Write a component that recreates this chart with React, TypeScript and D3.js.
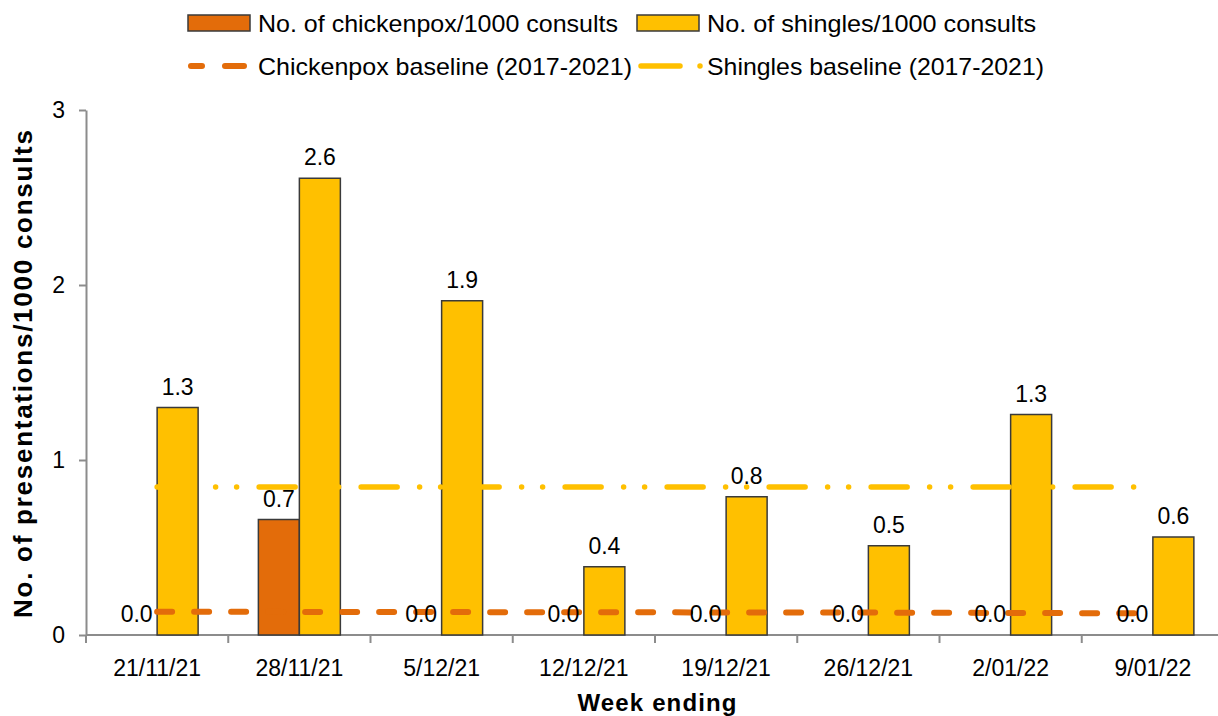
import * as d3 from "d3";
import { useEffect, useRef } from "react";

const weeks = ["21/11/21", "28/11/21", "5/12/21", "12/12/21", "19/12/21", "26/12/21", "2/01/22", "9/01/22"];
const chickenpox = [0, 0.66, 0, 0, 0, 0, 0, 0];
const shingles = [1.3, 2.61, 1.91, 0.39, 0.79, 0.51, 1.26, 0.56];
const chickenpoxBaseline = [0.133, 0.132, 0.131, 0.13, 0.129, 0.128, 0.126, 0.124];
const shinglesBaseline = [0.846, 0.846, 0.846, 0.846, 0.846, 0.846, 0.846, 0.846];
const yTicks = [0, 1, 2, 3];

const ORANGE = "#E36C0A";
const YELLOW = "#FFC000";
const AXIS = "#8c8c8c";
const FONT = "'Liberation Sans', Arial, sans-serif";

export default function App() {
  const ref = useRef<SVGSVGElement | null>(null);

  useEffect(() => {
    const width = 1218;
    const height = 716;
    const margin = { top: 110, right: -6, bottom: 81, left: 86 };

    const svg = d3.select(ref.current).attr("width", width).attr("height", height);
    svg.selectAll("*").remove();

    const x = d3
      .scaleBand<string>()
      .domain(weeks)
      .range([margin.left, width - margin.right]);

    const xs = d3
      .scaleBand<string>()
      .domain(["chickenpox", "shingles"])
      .range([0, x.bandwidth()])
      .paddingInner(0)
      .paddingOuter(0.735);

    const y = d3
      .scaleLinear()
      .domain([0, 3])
      .range([height - margin.bottom, margin.top]);

    // y axis
    const yAxis = svg
      .append("g")
      .attr("transform", `translate(${margin.left},0)`)
      .call(
        d3
          .axisLeft(y)
          .tickValues(yTicks)
          .tickFormat(d3.format("d"))
          .tickSize(7)
          .tickPadding(14)
          .tickSizeOuter(0)
      );
    yAxis.select(".domain").attr("stroke", AXIS).attr("stroke-width", 2);
    yAxis.selectAll(".tick line").attr("stroke", AXIS).attr("stroke-width", 2);
    yAxis
      .selectAll(".tick text")
      .attr("font-family", FONT)
      .attr("font-size", 23)
      .attr("fill", "#000");

    // x axis
    const y0 = y(0);
    svg
      .append("line")
      .attr("x1", margin.left)
      .attr("x2", width - margin.right)
      .attr("y1", y0)
      .attr("y2", y0)
      .attr("stroke", AXIS)
      .attr("stroke-width", 2);
    svg
      .append("g")
      .selectAll("line")
      .data(weeks)
      .join("line")
      .attr("x1", (d) => x(d)!)
      .attr("x2", (d) => x(d)!)
      .attr("y1", y0)
      .attr("y2", y0 + 8)
      .attr("stroke", AXIS)
      .attr("stroke-width", 2);
    svg
      .append("g")
      .selectAll("text")
      .data(weeks)
      .join("text")
      .attr("x", (d) => x(d)! + x.bandwidth() / 2)
      .attr("y", 676)
      .attr("text-anchor", "middle")
      .attr("font-family", FONT)
      .attr("font-size", 23)
      .text((d) => d);

    // bars
    const series = [
      { key: "chickenpox", values: chickenpox, color: ORANGE },
      { key: "shingles", values: shingles, color: YELLOW },
    ];
    series.forEach((s) => {
      svg
        .append("g")
        .selectAll("rect")
        .data(s.values)
        .join("rect")
        .attr("x", (_, i) => x(weeks[i])! + xs(s.key)!)
        .attr("y", (d) => y(d))
        .attr("width", xs.bandwidth())
        .attr("height", (d) => y0 - y(d))
        .attr("fill", s.color)
        .attr("stroke", "#3a3a3a")
        .attr("stroke-width", 1.5);
    });

    // baselines
    const line = d3
      .line<number>()
      .x((_, i) => x(weeks[i])! + x.bandwidth() / 2)
      .y((d) => y(d));

    svg
      .append("path")
      .datum(shinglesBaseline)
      .attr("d", line)
      .attr("fill", "none")
      .attr("stroke", YELLOW)
      .attr("stroke-width", 5.5)
      .attr("stroke-linecap", "round")
      .attr("stroke-dasharray", "36,22.5,0,21,0,22.5");

    svg
      .append("path")
      .datum(chickenpoxBaseline)
      .attr("d", line)
      .attr("fill", "none")
      .attr("stroke", ORANGE)
      .attr("stroke-width", 6)
      .attr("stroke-linecap", "round")
      .attr("stroke-dasharray", "15,22");

    // data labels
    series.forEach((s) => {
      svg
        .append("g")
        .selectAll("text")
        .data(s.values)
        .join("text")
        .attr("x", (_, i) => x(weeks[i])! + xs(s.key)! + xs.bandwidth() / 2)
        .attr("y", (d) => y(d) - 13)
        .attr("text-anchor", "middle")
        .attr("font-family", FONT)
        .attr("font-size", 23)
        .text((d) => d.toFixed(1));
    });

    // axis titles
    svg
      .append("text")
      .attr("transform", `translate(32,374) rotate(-90)`)
      .attr("text-anchor", "middle")
      .attr("font-family", FONT)
      .attr("font-weight", "bold")
      .attr("font-size", 26)
      .attr("textLength", 488)
      .attr("lengthAdjust", "spacing")
      .text("No. of presentations/1000 consults");

    svg
      .append("text")
      .attr("x", 657)
      .attr("y", 711)
      .attr("text-anchor", "middle")
      .attr("font-family", FONT)
      .attr("font-weight", "bold")
      .attr("font-size", 24)
      .attr("textLength", 159)
      .attr("lengthAdjust", "spacing")
      .text("Week ending");

    // legend
    const legend = svg.append("g").attr("font-family", FONT).attr("font-size", 24);
    legend
      .append("rect")
      .attr("x", 188).attr("y", 15).attr("width", 62).attr("height", 16)
      .attr("fill", ORANGE).attr("stroke", "#3a3a3a").attr("stroke-width", 1.5);
    legend
      .append("rect")
      .attr("x", 637).attr("y", 15).attr("width", 62).attr("height", 16)
      .attr("fill", YELLOW).attr("stroke", "#3a3a3a").attr("stroke-width", 1.5);
    legend
      .append("line")
      .attr("x1", 191).attr("x2", 244).attr("y1", 66).attr("y2", 66)
      .attr("stroke", ORANGE).attr("stroke-width", 6).attr("stroke-linecap", "round")
      .attr("stroke-dasharray", "11,23,19");
    legend
      .append("line")
      .attr("x1", 641).attr("x2", 704).attr("y1", 66).attr("y2", 66)
      .attr("stroke", YELLOW).attr("stroke-width", 5.5).attr("stroke-linecap", "round")
      .attr("stroke-dasharray", "39,20,0,100");

    const legendTexts = [
      { label: "No. of chickenpox/1000 consults", x: 258, y: 32, len: 360 },
      { label: "No. of shingles/1000 consults", x: 707, y: 32, len: 329 },
      { label: "Chickenpox baseline (2017-2021)", x: 258, y: 75, len: 374 },
      { label: "Shingles baseline (2017-2021)", x: 707, y: 75, len: 337 },
    ];
    legend
      .selectAll("text")
      .data(legendTexts)
      .join("text")
      .attr("x", (d) => d.x)
      .attr("y", (d) => d.y)
      .attr("textLength", (d) => d.len)
      .attr("lengthAdjust", "spacingAndGlyphs")
      .text((d) => d.label);
  }, []);

  return <svg ref={ref} style={{ position: "absolute", left: 0, top: 0 }} />;
}
